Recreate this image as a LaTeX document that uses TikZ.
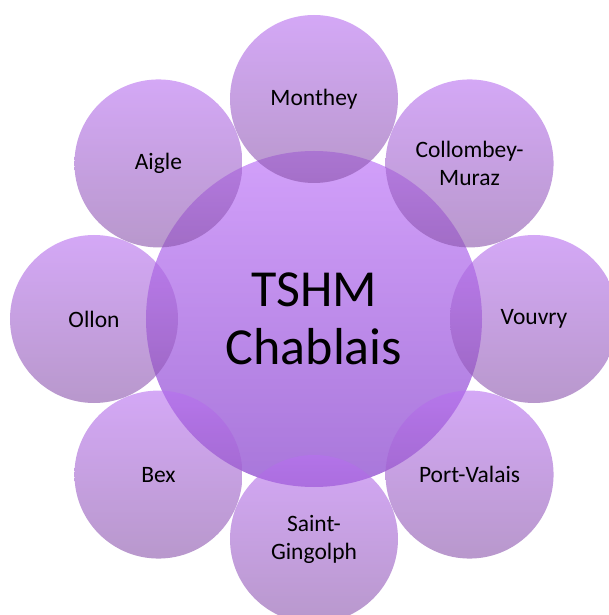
\documentclass[tikz,border=0pt]{standalone}
\usepackage{fontspec}
\setmainfont{Carlito}
\usetikzlibrary{positioning}

\definecolor{towntop}{RGB}{183,110,240}
\definecolor{townbot}{RGB}{137,83,170}
\definecolor{hubtop}{RGB}{180,97,247}
\definecolor{hubbot}{RGB}{110,27,193}

\tikzset{
  town/.style={circle, minimum size=168pt, inner sep=0pt, top color=towntop,
    bottom color=townbot, fill opacity=0.6, text opacity=1, align=center,
    font=\fontsize{23.5}{28}\selectfont},
  hub/.style={circle, minimum size=336pt, inner sep=0pt, top color=hubtop,
    bottom color=hubbot, fill opacity=0.6, text opacity=1, align=center,
    font=\fontsize{52}{58}\selectfont}
}

\begin{document}
\begin{tikzpicture}[x=1pt,y=1pt]
\clip (-314,-296) rectangle (295,319);
\useasboundingbox (-314,-296) rectangle (295,319);

\node[hub] (tshm) at (0,0) {TSHM\\Chablais};

\node[town] (monthey) at (90:220) {Monthey};
\node[town] (collombey) at (45:220) {Collombey-\\Muraz};
\node[town] (vouvry) at (0:220) {Vouvry};
\node[town] (portvalais) at (-45:220) {Port-Valais};
\node[town] (gingolph) at (-90:220) {Saint-\\Gingolph};
\node[town] (bex) at (-135:220) {Bex};
\node[town] (ollon) at (180:220) {Ollon};
\node[town] (aigle) at (135:220) {Aigle};
\end{tikzpicture}
\end{document}
